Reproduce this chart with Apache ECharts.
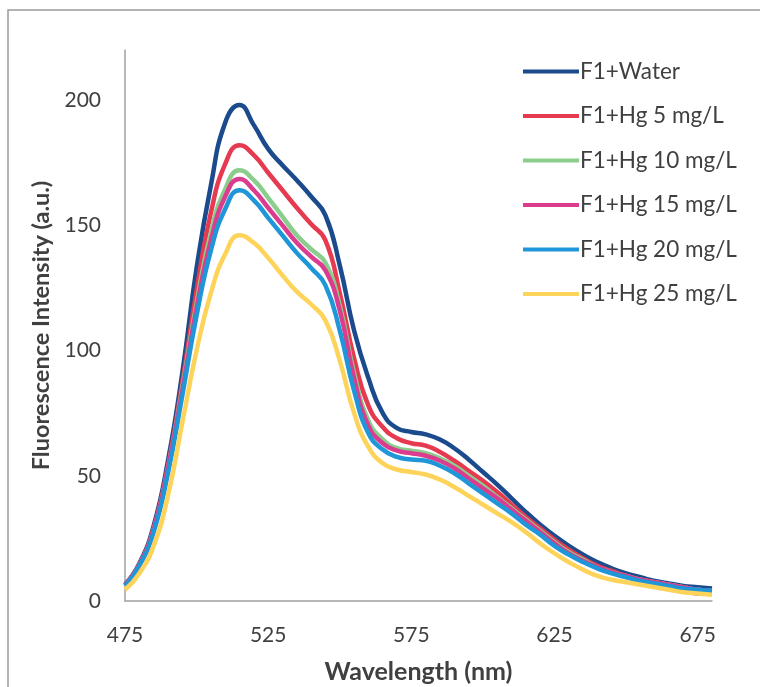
<!DOCTYPE html>
<html><head><meta charset="utf-8">
<script src="https://cdn.jsdelivr.net/npm/echarts@6/dist/echarts.min.js"></script>
<style>html,body{margin:0;padding:0;background:#fff}#c{width:760px;height:687px}</style>
</head><body><div id="c"></div>
<script>
const wavelengths = [475,480,485,490,495,500,505,510,515,520,525,530,535,540,545,550,555,560,565,570,575,580,585,590,595,600,605,610,615,620,625,630,635,640,645,650,655,660,665,670,675,680];
const seriesNames = ['F1+Water','F1+Hg 5 mg/L','F1+Hg 10 mg/L','F1+Hg 15 mg/L','F1+Hg 20 mg/L','F1+Hg 25 mg/L'];
const water = [6.5,15,30,56,91,133,166,191,198,190,180.5,174,168,161.5,154,134,108,89,75,69,67.5,66.5,64.5,61,56.5,51.5,46.5,41,35.5,30.5,26,22,18.5,15.5,13,11,9.5,8,7,6,5.5,5];
const hg5 = [6.5,14.5,29,54,87,124,155,174.5,182,178,171,164,157,150.5,144,123,97,78,69.5,65,63,62,59.5,56,52,48,43.5,38.5,33.5,29,24.5,20.5,17,14,12,10,8.5,7.5,6.5,5,3,3];
const hg10 = [6.5,14.5,28.5,53,85,119,147,164.5,172,168,161,153.5,146,140.5,135,118,91,72,64.5,61,60,59,57,54,50,46,41.5,37,32.5,28,23.5,19.5,16.5,13.5,11.5,10,8.5,7.5,6.5,5.5,4.5,4];
const hg15 = [6.5,14.5,28.5,53,84,117,144,161.5,168.5,164,157,150,143,137.5,132,116,89,70,63,60,59,58,56,53,49,45,41,36.5,32,27.5,23,19,16,13.5,11.5,10,8.5,7.5,6.5,5.5,4.5,4];
const hg20 = [6,14,27.5,51,82,114,140,156.5,164,160,153,146,139,133,126,108,84,67,60.5,57.5,56.5,56,54,51,47,43,39,35,30.5,26.5,22,18.5,15.5,13,11,9.5,8,7,6,5,4.5,4];
const hg25 = [4.5,11,22,42,71,100,123,138.5,146,143,137,130,123.5,118.5,112,96,75,61.5,55,52.5,51.5,50.5,48.5,45.5,42,38.5,35,31.5,27.5,23,19,15.5,12.5,10,8.5,7.5,6.5,5.5,4.5,3.5,3,2.5];
const colors = ['#1b4b8c','#e63a50','#8bcd8c','#dc3c8e','#1f96d8','#fdd35a'];
const allData = [water,hg5,hg10,hg15,hg20,hg25];

const font = 'Lato';
const chart = echarts.init(document.getElementById('c'), null, {renderer:'canvas'});
chart.setOption({
  animation:false,
  backgroundColor:'#fff',
  graphic:[{type:'rect',shape:{x:8,y:10,width:770,height:700},style:{fill:'none',stroke:'#9a9a9a',lineWidth:1.5},silent:true}],
  grid:{left:125,right:48,top:50,bottom:86,outerBoundsMode:'none',containLabel:false},
  legend:{
    orient:'vertical', left:518, top:55,
    itemWidth:56, itemHeight:4, itemGap:21.5, icon:'rect',
    textStyle:{fontFamily:font,fontSize:22.5,color:'#404040',lineHeight:22,padding:[0,0,0,-4]},
    data:seriesNames
  },
  xAxis:{
    type:'value', min:475, max:680, interval:50,
    name:'Wavelength (nm)', nameLocation:'middle', nameGap:58,
    nameTextStyle:{fontFamily:font,fontSize:25,fontWeight:'bold',color:'#404040'},
    axisLine:{show:true,onZero:false,lineStyle:{color:'#a0a0a0',width:1.5}},
    axisTick:{show:false},
    axisLabel:{fontFamily:font,fontSize:21,color:'#404040',margin:24,showMaxLabel:false},
    splitLine:{show:false}
  },
  yAxis:{
    type:'value', min:0, max:220, interval:50,
    name:'Fluorescence Intensity (a.u.)', nameLocation:'middle', nameGap:71,
    nameTextStyle:{fontFamily:font,fontSize:23.5,fontWeight:'bold',color:'#404040'},
    axisLine:{show:true,lineStyle:{color:'#a0a0a0',width:1.5}},
    axisTick:{show:false},
    axisLabel:{fontFamily:font,fontSize:21,color:'#404040',margin:24,showMaxLabel:false},
    splitLine:{show:false}
  },
  series: seriesNames.map((n,i)=>({
    name:n, type:'line', smooth:0.5, symbol:'none',
    data: wavelengths.map((w,j)=>[w, allData[i][j]]),
    lineStyle:{color:colors[i],width:4.5},
    itemStyle:{color:colors[i]}
  }))
});
</script></body></html>
